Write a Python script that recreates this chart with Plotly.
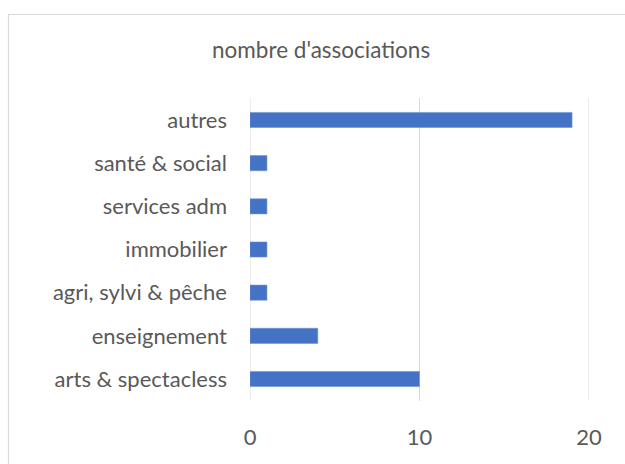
import plotly.graph_objects as go

categories = ["arts & spectacless", "enseignement", "agri, sylvi & pêche",
              "immobilier", "services adm", "santé & social", "autres"]
values = [10, 4, 1, 1, 1, 1, 19]
x_ticks = [0, 10, 20]
title_text = "nombre d'associations"

W, H = 625, 464
font_family = "Lato, 'Liberation Sans', sans-serif"
text_color = "#595959"
grid_color = "#d9d9d9"

fig = go.Figure(go.Bar(
    x=values, y=categories, orientation="h",
    marker=dict(color="#4472C4", line=dict(color="#6f93d4", width=0.6)),
    hoverinfo="skip",
))

fig.update_layout(
    template="none",
    width=W, height=H, autosize=False,
    margin=dict(l=0, r=0, t=0, b=0, pad=0, autoexpand=False),
    paper_bgcolor="white", plot_bgcolor="white",
    showlegend=False,
    bargap=0.65,
    font=dict(family=font_family, color=text_color, size=22),
    xaxis=dict(
        domain=[250 / W, 589 / W], automargin=False,
        range=[0, 20], autorange=False,
        tickvals=x_ticks, ticktext=[str(t) for t in x_ticks],
        showgrid=True, gridcolor=grid_color, gridwidth=1,
        zeroline=False, showline=False,
        ticks="", ticklabelstandoff=21,
        tickfont=dict(size=22, color=text_color),
        fixedrange=True,
    ),
    yaxis=dict(
        domain=[(H - 400.6) / H, (H - 98.4) / H], automargin=False,
        categoryorder="array", categoryarray=categories,
        showgrid=False, zeroline=False,
        showline=False,
        ticks="", ticklabelstandoff=22,
        tickfont=dict(size=22, color=text_color),
        fixedrange=True,
    ),
    annotations=[dict(
        text=title_text, x=321 / W, y=1 - 50 / H, xref="paper", yref="paper",
        xanchor="center", yanchor="middle", showarrow=False,
        font=dict(size=22.5, color=text_color, family=font_family),
    )],
    shapes=[
        dict(type="rect", xref="paper", yref="paper",
             x0=8.5 / W, x1=1.2, y0=-0.2, y1=1 - 14.5 / H,
             line=dict(color=grid_color, width=1.2), layer="below"),
        dict(type="line", xref="x", yref="paper", x0=20, x1=20,
             y0=(H - 400.6) / H, y1=(H - 98.4) / H,
             line=dict(color=grid_color, width=1), layer="below"),
        dict(type="line", xref="x", yref="paper", x0=0, x1=0,
             y0=(H - 400.6) / H, y1=(H - 98.4) / H,
             line=dict(color=grid_color, width=1), layer="below"),
    ],
)

fig.write_html(
    "out.html",
    config={"displayModeBar": False, "responsive": False},
    post_script="document.body.style.margin='0';document.body.style.overflow='hidden';",
)
